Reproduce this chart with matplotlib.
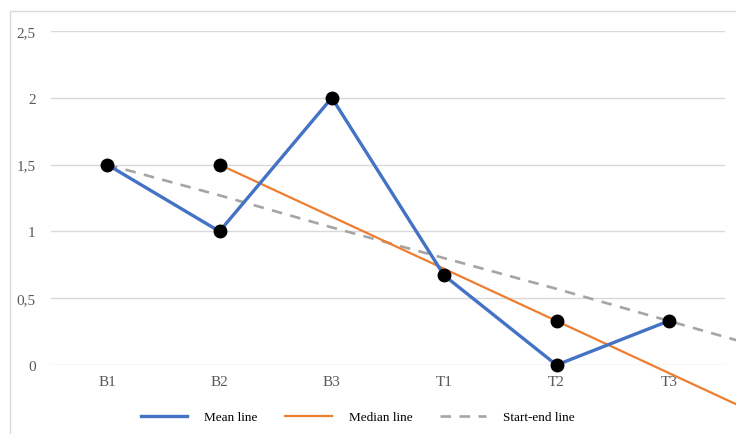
import numpy as np
import matplotlib
matplotlib.use('Agg')
import matplotlib.pyplot as plt
import matplotlib.ticker as mticker
from matplotlib.patches import Rectangle

categories = ['B1', 'B2', 'B3', 'T1', 'T2', 'T3']
mean_line = [1.5, 1.0, 2.0, 0.67, 0.0, 0.33]
# median trend line: starts at B2, marked points at B2 and T2
median_line = [np.nan, 1.5, 1.11, 0.72, 0.33, -0.06]
median_marked = [np.nan, 1.5, np.nan, np.nan, 0.33, np.nan]
start_end_line = [1.5, 1.27, 1.03, 0.80, 0.57, 0.33]
y_ticks = [0, 0.5, 1, 1.5, 2, 2.5]

BLUE = '#4472C4'
ORANGE = '#ED7D31'
GRAY = '#A5A5A5'

plt.rcParams['font.family'] = ['Liberation Serif', 'DejaVu Serif']

W, H = 736, 435
fig = plt.figure(figsize=(W / 100, H / 100), dpi=100)
ax = fig.add_axes([51 / W, 69 / H, (725 - 51) / W, (366 - 32) / H])

x = np.arange(len(categories))

# outer chart border (cut off at the right and bottom in the original)
fig.patches.append(Rectangle((10 / W, -0.1), 1.2, (435 - 12) / H + 0.1,
                             transform=fig.transFigure, fill=False,
                             edgecolor='#D9D9D9', linewidth=1.0))

# trend lines extend past the last category up to the figure edge
x_edge = 5.6
se = np.array(start_end_line)
se_slope = se[-1] - se[-2]
ax.plot(np.append(x, x_edge), np.append(se, se[-1] + se_slope * (x_edge - 5)),
        color=GRAY, lw=1.9, dashes=(4, 3.2), clip_on=False, zorder=2,
        label='Start-end line')

md = np.array(median_line)
md_slope = md[-1] - md[-2]
ax.plot(np.append(x, x_edge), np.append(md, md[-1] + md_slope * (x_edge - 5)),
        color=ORANGE, lw=1.6, clip_on=False, zorder=3, label='Median line')

ax.plot(x, mean_line, color=BLUE, lw=2.4, zorder=4, label='Mean line')

ax.plot(x, mean_line, 'o', color='black', ms=9, zorder=5, clip_on=False)
ax.plot(x, median_marked, 'o', color='black', ms=9, zorder=5, clip_on=False)

ax.set_xlim(-0.5, 5.5)
ax.set_ylim(0, 2.5)
ax.set_xticks(x)
ax.set_xticklabels(categories)
ax.set_yticks(y_ticks)
ax.yaxis.set_major_formatter(mticker.FuncFormatter(
    lambda v, p: ('%g' % v).replace('.', ',')))
ax.tick_params(axis='both', length=0, labelsize=11, colors='#595959')
ax.tick_params(axis='y', pad=11)
ax.tick_params(axis='x', pad=7)
ax.grid(axis='y', color='#D9D9D9', linewidth=1.0)
ax.set_axisbelow(True)
for s in ax.spines.values():
    s.set_visible(False)

handles, labels = ax.get_legend_handles_labels()
order = [2, 1, 0]
fig.legend([handles[i] for i in order], [labels[i] for i in order],
           loc='center', bbox_to_anchor=(358 / W, 1 - 418 / H), ncol=3,
           frameon=False, fontsize=9.5, handlelength=3.5, columnspacing=2.1,
           handletextpad=1.3)

fig.savefig('out.png', dpi=100)
